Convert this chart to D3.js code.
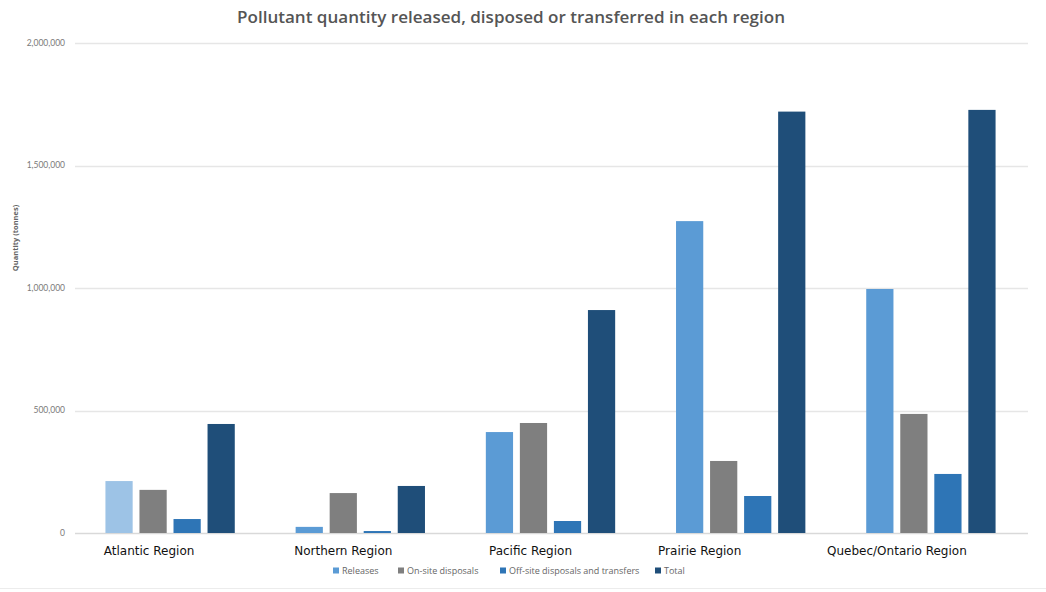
<!DOCTYPE html>
<html><head><meta charset="utf-8">
<script src="https://cdn.jsdelivr.net/npm/d3@7"></script>
<style>html,body{margin:0;padding:0;background:#fff;}svg{display:block;}</style>
</head><body>
<svg id="chart" width="1046" height="592"></svg>
<script>
const title = "Pollutant quantity released, disposed or transferred in each region";
const yAxisLabel = "Quantity (tonnes)";
const regions = ["Atlantic Region","Northern Region","Pacific Region","Prairie Region","Quebec/Ontario Region"];
const seriesNames = ["Releases","On-site disposals","Off-site disposals and transfers","Total"];
const releases  = [212000, 25000, 412000, 1273000, 996000];
const onSite    = [176000, 163000, 449000, 294000, 486000];
const offSite   = [57000, 8000, 49000, 151000, 241000];
const totals    = [445000, 192000, 910000, 1720000, 1727000];
const yTicks = [0, 500000, 1000000, 1500000, 2000000];
const colors = ["#5b9bd5","#7f7f7f","#2e75b6","#1f4e79"];

const seriesValues = [releases, onSite, offSite, totals];
const svg = d3.select("#chart");
const W = 1046, H = 592;
const mLeft = 75, mRight = 1026, mTop = 43, mBottom = 533;

const x0 = d3.scaleBand().domain(regions).range([mLeft, mRight]).paddingInner(0.32).paddingOuter(0.16);
const x1 = d3.scaleBand().domain(seriesNames).range([0, x0.bandwidth()]).paddingInner(0.2).paddingOuter(0);
const y = d3.scaleLinear().domain([0, 2000000]).range([mBottom, mTop]);

// bottom frame line
svg.append("line").attr("x1",0).attr("x2",W).attr("y1",588.5).attr("y2",588.5).attr("stroke","#ececec");

// gridlines
svg.append("g").selectAll("line").data(yTicks).join("line")
  .attr("x1", mLeft).attr("x2", mRight + 2)
  .attr("y1", d => Math.round(y(d)) + 0.5).attr("y2", d => Math.round(y(d)) + 0.5)
  .attr("stroke", d => d === 0 ? "#d9d9d9" : "#e6e6e6").attr("stroke-width", 1.3);

// y axis tick labels
const fmt = d3.format(",");
svg.append("g").selectAll("text").data(yTicks).join("text")
  .attr("x", 65).attr("y", d => y(d)).attr("dy","0.35em")
  .attr("text-anchor","end").attr("font-family","Lato, 'Open Sans', sans-serif")
  .attr("font-size", 8.5).attr("fill","#7a7a7a").text(d => fmt(d));

// y axis label
svg.append("text").attr("transform","translate(18,238) rotate(-90)")
  .attr("text-anchor","middle").attr("font-family","'Open Sans', sans-serif")
  .attr("font-weight","bold").attr("font-size",7.5).attr("fill","#666").text(yAxisLabel);

// bars
const data = [];
regions.forEach((r, i) => seriesNames.forEach((s, j) => data.push({region:r, series:s, j, i, value: seriesValues[j][i]})));
svg.append("g").selectAll("rect").data(data).join("rect")
  .attr("x", d => x0(d.region) + x1(d.series))
  .attr("width", x1.bandwidth())
  .attr("y", d => y(d.value))
  .attr("height", d => Math.max(1.5, y(0) - y(d.value)))
  .attr("fill", d => (d.i === 0 && d.j === 0) ? "#9dc3e6" : colors[d.j]);

// category labels
svg.append("g").selectAll("text").data(regions).join("text")
  .attr("x", (d,i) => x0(d) + x0.bandwidth()/2 - [21,17,20,41,34][i])
  .attr("y", 555).attr("text-anchor","middle")
  .attr("font-family","'DejaVu Sans', sans-serif").attr("font-size",12).attr("fill","#111")
  .text(d => d);

// title
svg.append("text").attr("x", 511).attr("y", 23).attr("text-anchor","middle")
  .attr("font-family","'Open Sans', sans-serif").attr("font-weight",600)
  .attr("font-size",16.5).attr("fill","#555").attr("textLength",548).attr("lengthAdjust","spacingAndGlyphs")
  .text(title);

// legend
const legX = [333, 398, 500, 655];
const leg = svg.append("g").selectAll("g").data(seriesNames).join("g")
  .attr("transform", (d,i) => `translate(${legX[i]},571)`);
leg.append("rect").attr("x",0).attr("y",-3.5).attr("width",6).attr("height",6).attr("fill",(d,i)=>colors[i]);
leg.append("text").attr("x",9).attr("y",0).attr("dy","0.35em")
  .attr("font-family","'Open Sans', sans-serif").attr("font-size",9).attr("fill","#666").text(d=>d);
</script>
</body></html>
